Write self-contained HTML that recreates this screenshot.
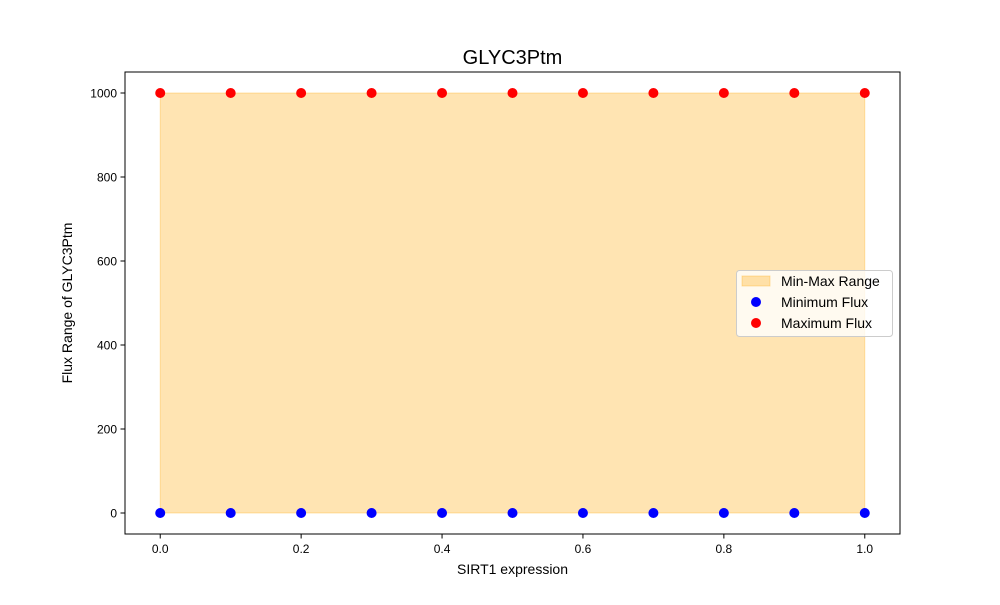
<!DOCTYPE html>
<html><head><meta charset="utf-8"><style>body{margin:0;background:#fff}svg{font-family:"Liberation Sans",sans-serif}</style></head>
<body>
<svg id="c" width="1000" height="600" xmlns="http://www.w3.org/2000/svg">
<rect width="1000" height="600" fill="#fff"/>
<text x="512.5" y="64" font-size="20" text-anchor="middle">GLYC3Ptm</text>
<g id="plot"></g>
<rect x="125" y="72" width="775" height="462" fill="none" stroke="#000" stroke-width="1"/>
<text x="512.5" y="574" font-size="14" text-anchor="middle">SIRT1 expression</text>
<text transform="translate(72,303) rotate(-90)" font-size="14" text-anchor="middle">Flux Range of GLYC3Ptm</text>
<g>
<rect x="736.5" y="270.5" width="156" height="66" rx="3" fill="#fff" fill-opacity="0.8" stroke="#ccc"/>
<rect x="742" y="276" width="28" height="10" fill="#ffa500" fill-opacity="0.3" stroke="#ffa500" stroke-opacity="0.3"/>
<text x="781" y="286" font-size="14">Min-Max Range</text>
<circle cx="756" cy="302" r="5" fill="#0000ff"/>
<text x="781" y="307" font-size="14">Minimum Flux</text>
<circle cx="756" cy="323" r="5" fill="#ff0000"/>
<text x="781" y="328" font-size="14">Maximum Flux</text>
</g>
</svg>
<script>
const xs=[0,0.1,0.2,0.3,0.4,0.5,0.6,0.7,0.8,0.9,1.0];
const minFlux=[0,0,0,0,0,0,0,0,0,0,0];
const maxFlux=[1000,1000,1000,1000,1000,1000,1000,1000,1000,1000,1000];
const xTicks=[0,0.2,0.4,0.6,0.8,1.0];
const xTickLabels=["0.0","0.2","0.4","0.6","0.8","1.0"];
const yTicks=[0,200,400,600,800,1000];
const NS="http://www.w3.org/2000/svg";
const X=v=>125+(v+0.05)/1.1*775;
const Y=v=>534-(v+50)/1100*462;
const g=document.getElementById('plot');
function mk(t,a){const e=document.createElementNS(NS,t);for(const k in a)e.setAttribute(k,a[k]);g.appendChild(e);return e;}
let pts=xs.map((x,i)=>X(x)+','+Y(maxFlux[i]));
for(let i=xs.length-1;i>=0;i--)pts.push(X(xs[i])+','+Y(minFlux[i]));
const area=mk('polygon',{points:pts.join(' '),fill:'#ffa500','fill-opacity':0.3,stroke:'#ffa500','stroke-opacity':0.3});


xs.forEach((x,i)=>{
 const a=mk('circle',{cx:X(x),cy:Y(minFlux[i]),r:5,fill:'#0000ff'});
 
 
 const b=mk('circle',{cx:X(x),cy:Y(maxFlux[i]),r:5,fill:'#ff0000'});
 
 
});
xTicks.forEach((t,i)=>{
 const l=mk('line',{x1:X(t),x2:X(t),y1:534,y2:538.5,stroke:'#000'});
 
 
 const tx=mk('text',{x:X(t),y:553,'font-size':12,'text-anchor':'middle'});
 tx.textContent=xTickLabels[i];
 
 
});
yTicks.forEach(t=>{
 const l=mk('line',{x1:120.5,x2:125,y1:Y(t),y2:Y(t),stroke:'#000'});
 
 
 const tx=mk('text',{x:117,y:Y(t)+4.5,'font-size':12,'text-anchor':'end'});
 tx.textContent=String(t);
 
 
});
</script>
</body></html>
